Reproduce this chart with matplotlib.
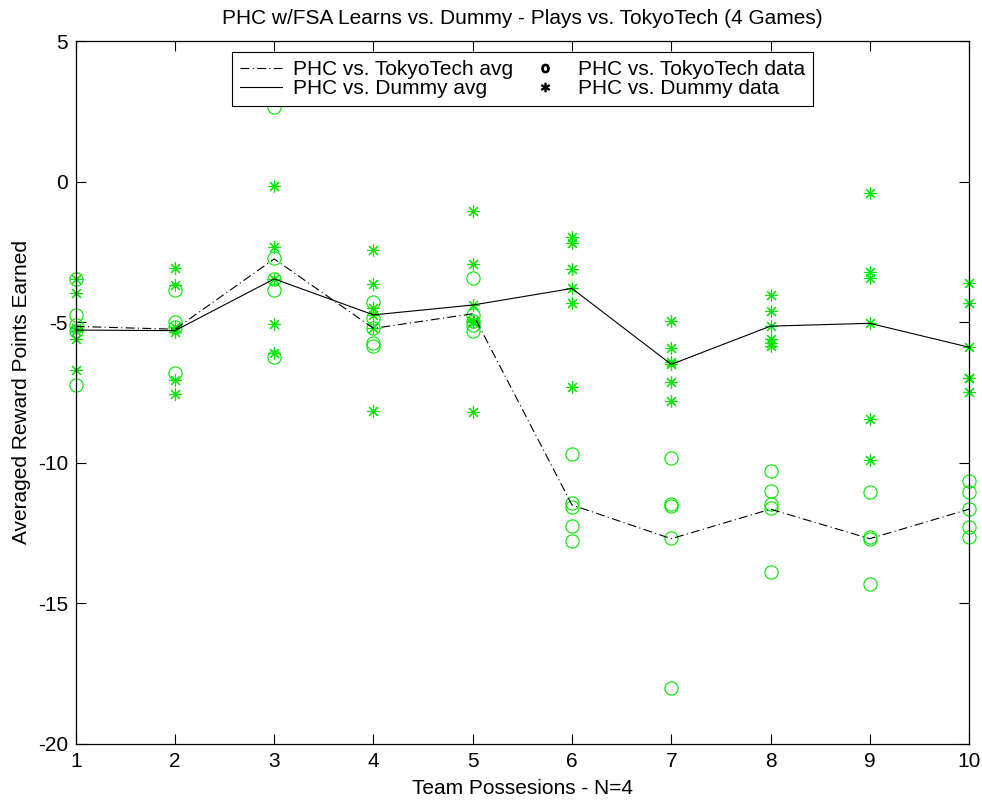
import matplotlib
matplotlib.use('Agg')
import matplotlib.pyplot as plt
from matplotlib.lines import Line2D

# team possessions
xs = [1, 2, 3, 4, 5, 6, 7, 8, 9, 10]

# averaged lines
tokyo_avg = [-5.15, -5.25, -2.75, -5.22, -4.7, -11.5, -12.7, -11.65, -12.7, -11.65]
dummy_avg = [-5.28, -5.3, -3.46, -4.74, -4.39, -3.8, -6.5, -5.14, -5.04, -5.89]

# raw game data, one list per possession
tokyo_data = [
    [-3.46, -4.74, -5.1, -5.3, -7.23],
    [-3.86, -4.98, -5.16, -6.81],
    [2.65, -2.73, -3.46, -3.86, -6.24],
    [-4.27, -4.86, -5.22, -5.73, -5.85],
    [-3.44, -4.74, -4.96, -5.1, -5.3],
    [-9.69, -11.44, -11.56, -12.24, -12.77],
    [-9.84, -11.47, -11.52, -12.69, -18.0],
    [-10.28, -10.99, -11.47, -11.62, -13.9],
    [-11.05, -12.65, -12.72, -14.31],
    [-10.63, -11.05, -11.65, -12.3, -12.65],
]
dummy_data = [
    [-3.46, -3.95, -5.2, -5.3, -5.6, -6.7],
    [-3.08, -3.68, -5.16, -5.34, -7.05, -7.56],
    [-0.15, -2.31, -3.46, -5.07, -6.1],
    [-2.43, -3.65, -4.51, -4.74, -5.22, -8.15],
    [-1.03, -2.93, -4.39, -4.96, -5.0, -8.18],
    [-1.96, -2.19, -3.1, -3.8, -4.3, -7.29],
    [-4.96, -5.93, -6.42, -6.5, -7.11, -7.79],
    [-4.03, -4.59, -5.14, -5.6, -5.73, -5.85],
    [-0.39, -3.2, -3.44, -5.04, -8.44, -9.9],
    [-3.62, -4.33, -5.89, -6.97, -7.0, -7.47],
]

GREEN = '#00e600'
ASTERISK = (8, 2, 0)
DASHDOT = (0, (8, 3, 1, 3))
FS = 15


def flatten(data):
    px, py = [], []
    for x, vals in zip(xs, data):
        for v in vals:
            px.append(x)
            py.append(v)
    return px, py


def do_plot():
    plt.rcParams['font.family'] = ['Liberation Sans', 'DejaVu Sans']
    plt.rcParams['axes.unicode_minus'] = False

    fig = plt.figure(figsize=(9.82, 8.01), dpi=100)
    ax = fig.add_axes([0.0771, 0.0712, 0.9097, 0.8776])

    tx, ty = flatten(tokyo_data)
    dx, dy = flatten(dummy_data)
    ax.plot(tx, ty, linestyle='none', marker='o', markersize=9.5,
            markerfacecolor='none', markeredgecolor=GREEN, markeredgewidth=0.8,
            clip_on=False)
    ax.plot(dx, dy, linestyle='none', marker=ASTERISK, markersize=9,
            markeredgecolor=GREEN, markeredgewidth=0.8, clip_on=False)

    ax.plot(xs, tokyo_avg, color='black', linewidth=0.8, linestyle=DASHDOT)
    ax.plot(xs, dummy_avg, color='black', linewidth=0.8, linestyle='-')

    ax.set_xlim(1, 10)
    ax.set_ylim(-20, 5)
    ax.set_xticks(xs)
    ax.set_yticks([-20, -15, -10, -5, 0, 5])
    ax.tick_params(direction='in', length=7, width=0.8, top=True, right=True,
                   labelsize=FS, pad=5.5)
    for sp in ax.spines.values():
        sp.set_linewidth(0.9)

    ax.set_title('PHC w/FSA Learns vs. Dummy - Plays vs. TokyoTech (4 Games)',
                 fontsize=FS, pad=12)
    ax.set_xlabel('Team Possesions - N=4', fontsize=FS, labelpad=6)
    ax.set_ylabel('Averaged Reward Points Earned', fontsize=FS, labelpad=5)

    handles = [
        Line2D([], [], color='black', linewidth=0.8, linestyle=DASHDOT),
        Line2D([], [], color='black', linewidth=0.8),
        Line2D([], [], linestyle='none', marker=r'$\mathrm{o}$', color='black', markersize=6),
        Line2D([], [], linestyle='none', marker=r'$*$', color='black', markersize=6),
    ]
    labels = ['PHC vs. TokyoTech avg', 'PHC vs. Dummy avg',
              'PHC vs. TokyoTech data', 'PHC vs. Dummy data']
    leg = ax.legend(handles, labels, loc='upper center', bbox_to_anchor=(0.5, 0.985),
                    ncol=2, fontsize=FS, fancybox=False, framealpha=1,
                    edgecolor='black', borderpad=0.4, labelspacing=0.0,
                    handlelength=2.0, columnspacing=0.55, handletextpad=0.55,
                    borderaxespad=0.0)
    leg.get_frame().set_linewidth(0.8)
    leg.set_zorder(10)

    fig.savefig('out.png', dpi=100)


def main():
    do_plot()


if __name__ == '__main__':
    main()
